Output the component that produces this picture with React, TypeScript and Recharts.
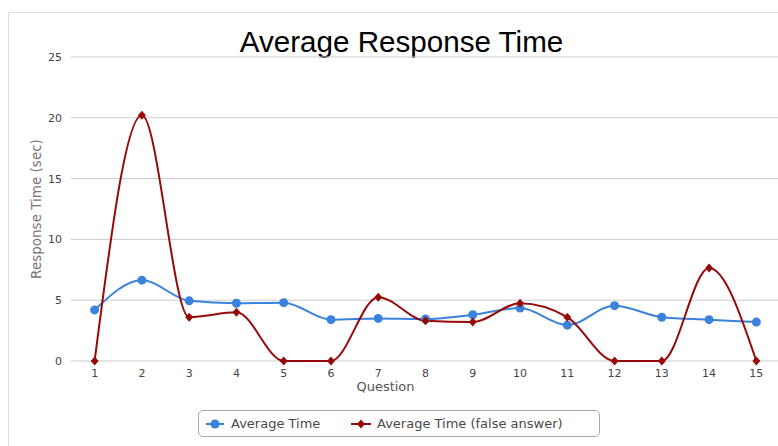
import { LineChart, Line, XAxis, YAxis, CartesianGrid, Legend } from "recharts"

const questions = [1, 2, 3, 4, 5, 6, 7, 8, 9, 10, 11, 12, 13, 14, 15]
const avgTime = [4.2, 6.65, 4.95, 4.75, 4.8, 3.4, 3.5, 3.45, 3.8, 4.35, 2.95, 4.55, 3.6, 3.4, 3.2]
const avgFalse = [0, 20.2, 3.6, 4.0, 0, 0, 5.25, 3.3, 3.2, 4.75, 3.6, 0, 0, 7.65, 0]
const yTicks = [0, 5, 10, 15, 20, 25]
const boundaries = [0.5, 1.5, 2.5, 3.5, 4.5, 5.5, 6.5, 7.5, 8.5, 9.5, 10.5, 11.5, 12.5, 13.5, 14.5, 15.5]

const data = questions.map((q, i) => ({ q, avg: avgTime[i], falseAvg: avgFalse[i] }))

const BLUE = "#3b82dc"
const RED = "#960a0a"
const AXIS = "#c4d4ea"
const FONT = "'DejaVu Sans', Verdana, sans-serif"

const Diamond = (props: any) => {
  const { cx, cy } = props
  if (cx == null || cy == null) return null
  return (
    <polygon
      points={`${cx},${cy - 4.5} ${cx + 4},${cy} ${cx},${cy + 4.5} ${cx - 4},${cy}`}
      fill={RED}
    />
  )
}

const LegendBox = () => (
  <div
    style={{
      width: 400,
      height: 25,
      border: "1px solid #a8a8a8",
      borderRadius: 5,
      fontFamily: FONT,
      fontSize: 13,
      color: "#4a4a4a",
      position: "relative",
      boxSizing: "content-box",
    }}
  >
    <svg width={18} height={10} style={{ position: "absolute", left: 7, top: 8 }}>
      <line x1={0} y1={5} x2={18} y2={5} stroke={BLUE} strokeWidth={2} />
      <circle cx={9} cy={5} r={4.5} fill={BLUE} />
    </svg>
    <span style={{ position: "absolute", left: 32, top: 5 }}>Average Time</span>
    <svg width={20} height={10} style={{ position: "absolute", left: 152, top: 8 }}>
      <line x1={0} y1={5} x2={20} y2={5} stroke={RED} strokeWidth={2} />
      <polygon points="10,0.5 14,5 10,9.5 6,5" fill={RED} />
    </svg>
    <span style={{ position: "absolute", left: 178, top: 5 }}>Average Time (false answer)</span>
  </div>
)

export default function App() {
  return (
    <div
      style={{
        position: "absolute",
        left: 0,
        top: 0,
        width: 778,
        height: 446,
        overflow: "hidden",
        background: "#fff",
      }}
    >
      <div
        style={{
          position: "absolute",
          left: 8,
          top: 12,
          width: 820,
          height: 460,
          border: "1px solid #dedede",
        }}
      />
      <div
        style={{
          position: "absolute",
          top: 25,
          left: 0,
          width: 803,
          textAlign: "center",
          fontFamily: "'Liberation Sans', Arial, sans-serif",
          fontSize: 29.6,
          color: "#000",
        }}
      >
        Average Response Time
      </div>
      <div style={{ position: "absolute", left: 0, top: 0 }}>
        <LineChart width={780} height={446} data={data} margin={{ top: 57, right: 0, left: 0, bottom: 9 }}>
          <CartesianGrid vertical={false} stroke="#cbcbcb" />
          <XAxis
            xAxisId="b"
            type="number"
            domain={[0.5, 15.5]}
            allowDataOverflow
            ticks={boundaries}
            tick={false}
            height={0}
            tickSize={5}
            axisLine={{ stroke: AXIS }}
            tickLine={{ stroke: AXIS }}
          />
          <XAxis
            xAxisId="q"
            dataKey="q"
            type="number"
            domain={[0.5, 15.5]}
            allowDataOverflow
            ticks={questions}
            interval={0}
            height={49}
            axisLine={false}
            tickLine={false}
            tickSize={0}
            tickMargin={8}
            tick={{ fill: "#444", fontSize: 11, fontFamily: FONT }}
            label={{
              value: "Question",
              position: "insideBottom",
              offset: 19,
              dx: -40,
              style: { fill: "#555", fontSize: 13, fontFamily: FONT },
            }}
          />
          <YAxis
            domain={[0, 25]}
            ticks={yTicks}
            width={71}
            axisLine={false}
            tickLine={false}
            tickSize={0}
            tickMargin={9}
            tick={{ fill: "#444", fontSize: 11, fontFamily: FONT }}
            label={{
              value: "Response Time (sec)",
              angle: -90,
              position: "insideLeft",
              offset: 36,
              style: { fill: "#777", fontSize: 13.5, fontFamily: FONT, textAnchor: "middle" },
            }}
          />
          <Legend content={() => <LegendBox />} wrapperStyle={{ left: 198, width: "auto" }} />
          <Line
            xAxisId="q"
            type="monotone"
            dataKey="avg"
            name="Average Time"
            stroke={BLUE}
            strokeWidth={2}
            dot={{ r: 4.5, fill: BLUE, stroke: "none" }}
            isAnimationActive={false}
          />
          <Line
            xAxisId="q"
            type="monotone"
            dataKey="falseAvg"
            name="Average Time (false answer)"
            stroke={RED}
            strokeWidth={2}
            dot={<Diamond />}
            isAnimationActive={false}
          />
        </LineChart>
      </div>
    </div>
  )
}
